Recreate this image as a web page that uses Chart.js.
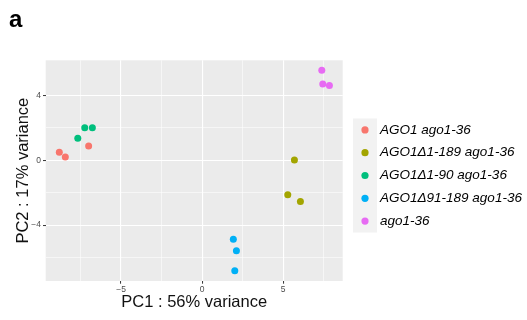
<!DOCTYPE html>
<html><head><meta charset="utf-8">
<script src="https://cdn.jsdelivr.net/npm/chart.js@4/dist/chart.umd.min.js"></script>
<style>html,body{margin:0;padding:0;background:#fff}#wrap{width:527px;height:320px;position:relative}</style>
</head><body><div id="wrap"><canvas id="c" width="527" height="320"></canvas></div>
<script>
const seriesLabels = ["AGO1 ago1-36","AGO1\u03941-189 ago1-36","AGO1\u03941-90 ago1-36","AGO1\u039491-189 ago1-36","ago1-36"];
const seriesColors = ["#F8766D","#A3A500","#00BF7D","#00B0F6","#E76BF3"];
const pc1_AGO1 = [-8.81,-8.44,-7.00];
const pc2_AGO1 = [0.49,0.20,0.88];
const pc1_d1_189 = [5.70,5.29,6.07];
const pc2_d1_189 = [0.02,-2.12,-2.55];
const pc1_d1_90 = [-7.67,-7.24,-6.77];
const pc2_d1_90 = [1.36,2.01,2.01];
const pc1_d91_189 = [1.93,2.12,2.02];
const pc2_d91_189 = [-4.88,-5.58,-6.81];
const pc1_ago = [7.39,7.45,7.86];
const pc2_ago = [5.56,4.71,4.61];
const xMajorTicks = [-5,0,5];
const xMinorTicks = [-7.5,-2.5,2.5,7.5];
const yMajorTicks = [-4,0,4];
const yMinorTicks = [-6,-2,2];
const xTitle = "PC1 : 56% variance";
const yTitle = "PC2 : 17% variance";
const panelLabel = "a";

const xs = [pc1_AGO1,pc1_d1_189,pc1_d1_90,pc1_d91_189,pc1_ago];
const ys = [pc2_AGO1,pc2_d1_189,pc2_d1_90,pc2_d91_189,pc2_ago];
const datasets = seriesLabels.map((l,i)=>({
  label:l,
  data: xs[i].map((x,j)=>({x:x,y:ys[i][j]})),
  backgroundColor: seriesColors[i], borderColor: seriesColors[i],
  pointRadius:3.5, pointHoverRadius:3.5, borderWidth:0
}));
const isMajor = (v,arr)=>arr.some(m=>Math.abs(m-v)<1e-9);
const FONT = "'Liberation Sans', Arial, sans-serif";

const bgPlugin = {
  id:'bg',
  beforeDraw(chart){
    const {ctx, chartArea:a} = chart;
    ctx.save(); ctx.fillStyle='#EBEBEB'; ctx.fillRect(a.left,a.top,a.right-a.left,a.bottom-a.top); ctx.restore();
  },
  afterDraw(chart){
    const {ctx, chartArea:a} = chart;
    ctx.save();
    ctx.fillStyle='#000'; ctx.font="bold 24px "+FONT; ctx.textBaseline='alphabetic'; ctx.textAlign='left';
    ctx.fillText(panelLabel, 9, 27);
    ctx.fillStyle='#111'; ctx.font="16.5px "+FONT; ctx.textAlign='center'; ctx.textBaseline='middle';
    ctx.fillText(xTitle,(a.left+a.right)/2,302);
    ctx.save(); ctx.translate(23,(a.top+a.bottom)/2); ctx.rotate(-Math.PI/2);
    ctx.fillText(yTitle,0,0); ctx.restore();
    const lx=353, lw=24, top=118.5, step=22.8;
    ctx.fillStyle='#F2F2F2'; ctx.fillRect(lx, top, lw, step*seriesLabels.length);
    ctx.font="italic 13.5px "+FONT; ctx.textAlign='left'; ctx.textBaseline='middle';
    seriesLabels.forEach((l,i)=>{
      const cy = top + step*i + step/2;
      ctx.beginPath(); ctx.arc(lx+lw/2, cy, 3.6, 0, Math.PI*2); ctx.fillStyle=seriesColors[i]; ctx.fill();
      ctx.fillStyle='#000'; ctx.fillText(l, 380, cy);
    });
    ctx.restore();
  }
};

new Chart(document.getElementById('c'),{
  type:'scatter',
  data:{datasets},
  plugins:[bgPlugin],
  options:{
    responsive:false, animation:false, devicePixelRatio:1,
    layout:{padding:{top:60.3,right:184.3,left:0,bottom:0}},
    plugins:{legend:{display:false},tooltip:{enabled:false}},
    scales:{
      x:{type:'linear',min:-9.65,max:8.68,
        afterBuildTicks(s){s.ticks=[...xMinorTicks,...xMajorTicks].sort((a,b)=>a-b).map(v=>({value:v}));},
        afterFit(s){s.height=39;},
        border:{display:false},
        grid:{color:'#FFFFFF',lineWidth:c=>isMajor(c.tick.value,xMajorTicks)?1.1:0.55,
          tickLength:2.7,tickColor:c=>isMajor(c.tick.value,xMajorTicks)?'#333333':'rgba(0,0,0,0)',tickWidth:1},
        ticks:{padding:1,color:'#4D4D4D',font:{size:8.5,family:FONT},maxRotation:0,autoSkip:false,
          callback:v=>isMajor(v,xMajorTicks)?String(v).replace('-','\u2212'):''}
      },
      y:{type:'linear',min:-7.45,max:6.17,
        afterBuildTicks(s){s.ticks=[...yMinorTicks,...yMajorTicks].sort((a,b)=>a-b).map(v=>({value:v}));},
        afterFit(s){s.width=45.7;},
        border:{display:false},
        grid:{color:'#FFFFFF',lineWidth:c=>isMajor(c.tick.value,yMajorTicks)?1.1:0.55,
          tickLength:2.7,tickColor:c=>isMajor(c.tick.value,yMajorTicks)?'#333333':'rgba(0,0,0,0)',tickWidth:1},
        ticks:{padding:2,color:'#4D4D4D',font:{size:8.5,family:FONT},autoSkip:false,
          callback:v=>isMajor(v,yMajorTicks)?String(v).replace('-','\u2212'):''}
      }
    }
  }
});
</script></body></html>
